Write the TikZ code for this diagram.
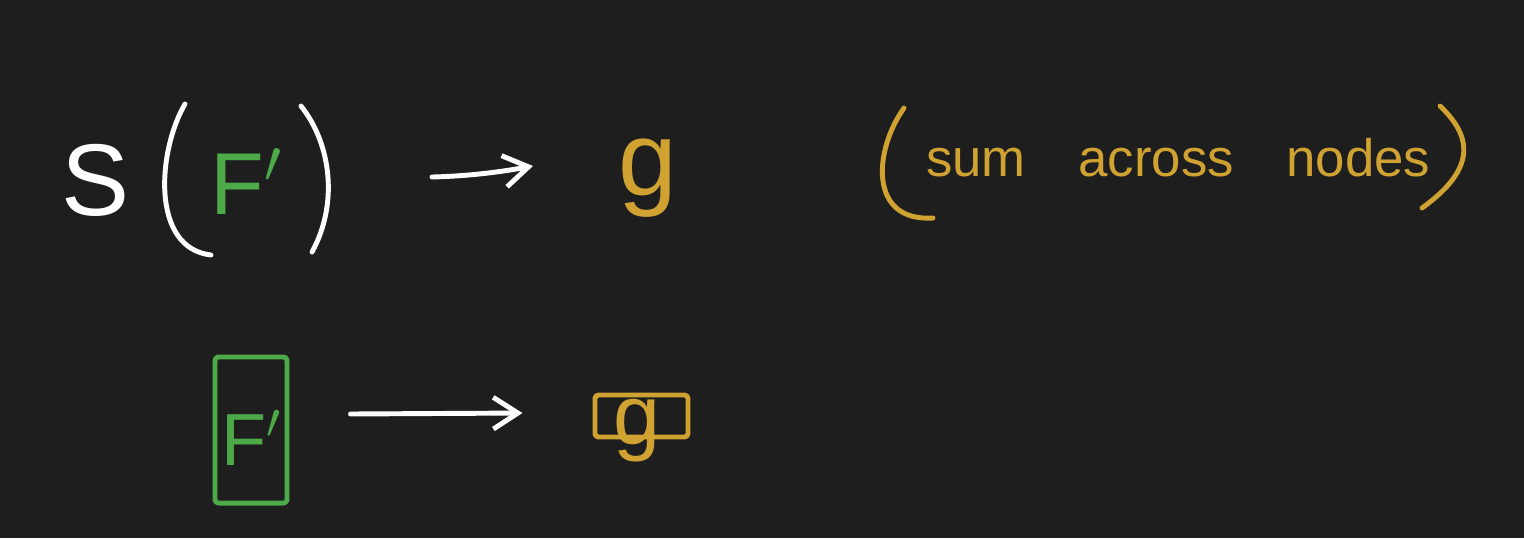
\documentclass[tikz,border=0pt]{standalone}
\usepackage{fontspec}
\setmainfont{Liberation Sans}
\usetikzlibrary{arrows.meta}
\definecolor{bg}{HTML}{1E1E1E}
\definecolor{ink}{HTML}{FFFFFF}
\definecolor{grn}{HTML}{4DAA48}
\definecolor{gold}{HTML}{CFA232}
\begin{document}
\begin{tikzpicture}[x=0.01cm,y=-0.01cm,
  stroke/.style={line width=1.4pt,line cap=round,line join=round},
  hand/.style={inner sep=0pt,outer sep=0pt,anchor=base},
  arr/.style={stroke,draw=ink,-{Straight Barb[length=7pt,width=9pt,line width=1.4pt]}},
  boxg/.style={stroke,draw=grn,rounded corners=1pt,inner sep=0pt},
  boxy/.style={stroke,draw=gold,rounded corners=1pt,inner sep=0pt}]
\fill[bg] (0,0) rectangle (1524,538);
\useasboundingbox (0,0) rectangle (1524,538);
% top row
\node[hand,text=ink,font=\fontsize{29}{34}\selectfont] (S) at (96,215) {S};
\draw[stroke,draw=ink] (185,104) .. controls (158,150) and (150,248) .. (211,255);
\draw[stroke,draw=ink] (301,106) .. controls (332,145) and (338,205) .. (312,252);
\node[hand,text=grn,font=\fontsize{25}{30}\selectfont] (Ft) at (247,214) {F$'$};
\coordinate (a1) at (432,177);
\node[hand,text=gold,font=\fontsize{30}{36}\selectfont] (gt) at (648,195) {g};
\draw[arr] (a1) .. controls (470,176) and (500,172) .. (533,166);
% sum across nodes
\draw[stroke,draw=gold] (904,108) .. controls (874,150) and (868,222) .. (933,218);
\node[hand,anchor=base west,text=gold,font=\fontsize{15}{18}\selectfont] (sum) at (926,176) {sum\hspace*{15pt}across\hspace*{15pt}nodes};
\draw[stroke,draw=gold] (1440,106) .. controls (1476,140) and (1472,172) .. (1422,208);
% bottom row
\node[boxg,minimum width=0.72cm,minimum height=1.46cm] (Fbox) at (251,430) {};
\node[hand,text=grn,font=\fontsize{21}{26}\selectfont] (Fb) at (252,465) {F$'$};
\node[boxy,minimum width=0.93cm,minimum height=0.42cm] (gbox) at (641.5,416) {};
\node[hand,text=gold,font=\fontsize{24}{29}\selectfont] (gb) at (637,444) {g};
\coordinate (b1) at ([xshift=0.61cm,yshift=0.16cm]Fbox.east);
\coordinate (b2) at ([xshift=-0.70cm,yshift=0.03cm]gbox.west);
\draw[arr] (b1) -- (b2);
\end{tikzpicture}
\end{document}
